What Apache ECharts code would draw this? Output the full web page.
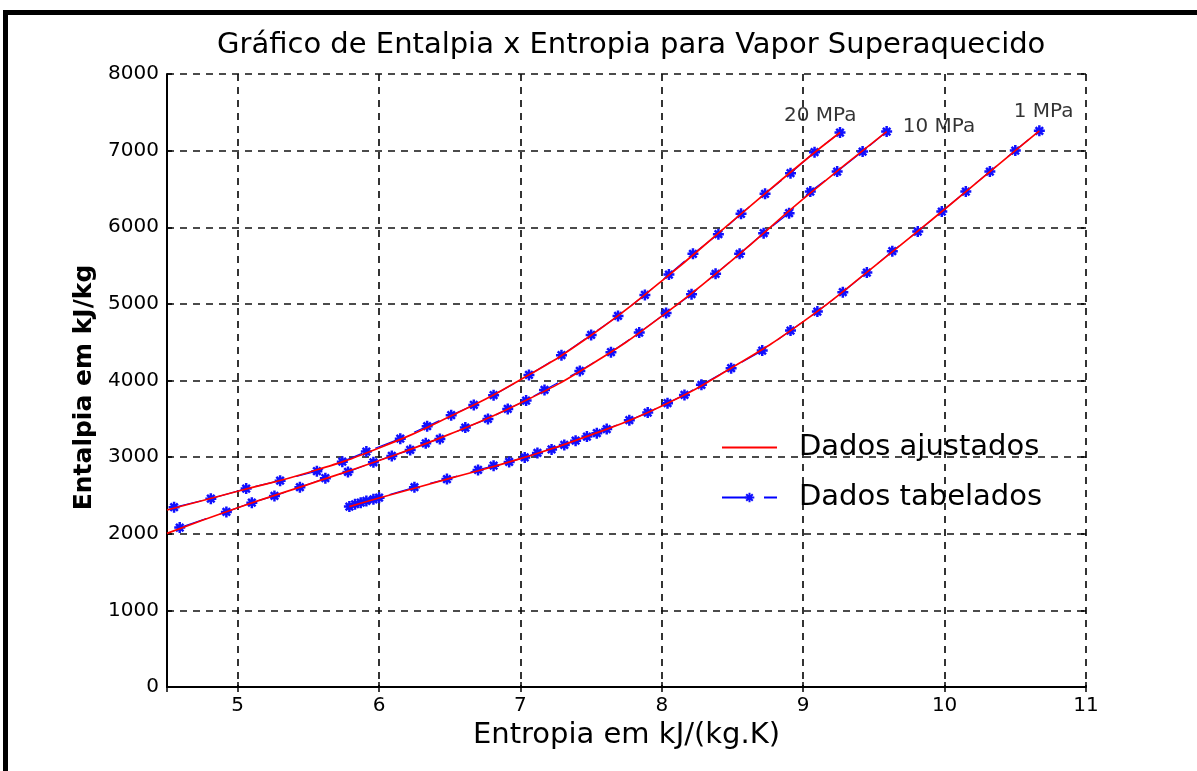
<!DOCTYPE html>
<html>
<head>
<meta charset="utf-8">
<script src="https://cdn.jsdelivr.net/npm/echarts@6/dist/echarts.min.js"></script>
<style>
  html, body { margin: 0; padding: 0; background: #fff; }
  #chart { width: 1197px; height: 771px; }
</style>
</head>
<body>
<div id="chart"></div>
<script>
// Superheated steam: enthalpy h (kJ/kg) against entropy s (kJ/(kg.K)), three isobars.
// Tabulated points [s, h]
const tab20MPa = [
  [4.55, 2346], [4.81, 2458], [5.06, 2589], [5.30, 2693], [5.56, 2816],
  [5.74, 2941], [5.91, 3072], [6.15, 3241], [6.34, 3403], [6.51, 3547],
  [6.67, 3681], [6.81, 3808], [7.06, 4073], [7.29, 4330], [7.50, 4595],
  [7.69, 4843], [7.88, 5117], [8.05, 5383], [8.22, 5653], [8.40, 5910],
  [8.56, 6175], [8.73, 6436], [8.91, 6706], [9.08, 6980], [9.26, 7236]
];
const tab10MPa = [
  [4.59, 2080], [4.92, 2285], [5.10, 2406], [5.26, 2494], [5.44, 2607],
  [5.62, 2725], [5.78, 2807], [5.96, 2933], [6.09, 3016], [6.22, 3094],
  [6.33, 3181], [6.43, 3238], [6.61, 3385], [6.77, 3499], [6.91, 3629],
  [7.04, 3738], [7.17, 3877], [7.42, 4125], [7.64, 4370], [7.84, 4625],
  [8.03, 4882], [8.21, 5127], [8.38, 5392], [8.55, 5653], [8.72, 5923],
  [8.90, 6184], [9.05, 6466], [9.24, 6727], [9.42, 6988], [9.59, 7249]
];
const tab1MPa = [
  [5.79, 2354], [5.83, 2385], [5.87, 2406], [5.91, 2428], [5.96, 2450],
  [6.00, 2471], [6.25, 2607], [6.48, 2713], [6.70, 2833], [6.81, 2888],
  [6.92, 2937], [7.03, 2996], [7.12, 3055], [7.22, 3101], [7.31, 3159],
  [7.39, 3214], [7.47, 3268], [7.54, 3312], [7.61, 3366], [7.77, 3482],
  [7.90, 3581], [8.04, 3704], [8.16, 3812], [8.28, 3943], [8.49, 4161],
  [8.71, 4390], [8.91, 4651], [9.10, 4899], [9.28, 5153], [9.45, 5409],
  [9.63, 5688], [9.81, 5944], [9.98, 6205], [10.15, 6466], [10.32, 6727],
  [10.50, 7001], [10.67, 7258]
];

// Fitted curves [s, h]
const fit20MPa = [
  [4.5, 2310], [5.0, 2555], [5.5, 2800], [6.0, 3120], [6.5, 3530],
  [7.0, 4010], [7.5, 4590], [8.0, 5300], [8.5, 6080], [9.0, 6855], [9.26, 7236]
];
const fit10MPa = [
  [4.5, 2005], [5.0, 2340], [5.5, 2645], [6.0, 2955], [6.5, 3300],
  [7.0, 3705], [7.5, 4210], [8.0, 4840], [8.5, 5575], [9.0, 6370], [9.59, 7249]
];
const fit1MPa = [
  [5.79, 2354], [6.0, 2466], [6.5, 2722], [7.0, 2980], [7.5, 3290],
  [8.0, 3668], [8.5, 4172], [9.0, 4768], [9.5, 5487], [10.0, 6235],
  [10.5, 7001], [10.67, 7258]
];

// Isobar names and where they are written [s, h]
const pressureNames = ['20 MPa', '10 MPa', '1 MPa'];
const pressureNameAt = [[9.12, 7454], [9.96, 7311], [10.70, 7507]];

const titleText = 'Gráfico de Entalpia x Entropia para Vapor Superaquecido';
const xName = 'Entropia em kJ/(kg.K)';
const yName = 'Entalpia em kJ/kg';
const fitName = 'Dados ajustados';
const tabName = 'Dados tabelados';

const FONT = 'DejaVu Sans';
const ASTERISK = 'path://M5 0L5 10M0 5L10 5M1.6 1.6L8.4 8.4M8.4 1.6L1.6 8.4';

const gridDash = { color: '#111', width: 1.7, type: [7, 6] };
const tickStyle = { color: '#000', width: 1.5 };

function tabSeries(data) {
  return {
    name: tabName, type: 'line', data: data, z: 2,
    symbol: ASTERISK, symbolSize: 11, showAllSymbol: true,
    itemStyle: { color: '#0000ff', borderColor: '#1010ff', borderWidth: 2.5 },
    lineStyle: { color: '#0000ff', width: 1.2, type: [28, 14] },
    emphasis: { disabled: true }
  };
}
function fitSeries(data) {
  return {
    name: fitName, type: 'line', data: data, z: 3,
    symbol: 'none', smooth: 0.5,
    itemStyle: { color: '#ff0000' },
    lineStyle: { color: '#ff0000', width: 1.7 },
    emphasis: { disabled: true }
  };
}

const chart = echarts.init(document.getElementById('chart'), null, { renderer: 'canvas' });

chart.setOption({
  animation: false,
  backgroundColor: '#ffffff',
  title: {
    text: titleText,
    left: 212, top: 26,
    textStyle: { fontFamily: FONT, fontSize: 29, fontWeight: 'normal', color: '#000' }
  },
  grid: { left: 167, right: 111, top: 74, bottom: 84, containLabel: false },
  legend: {
    data: [
      { name: fitName, itemStyle: { opacity: 0 } },
      { name: tabName }
    ],
    orient: 'vertical',
    left: 716, top: 428,
    itemWidth: 55, itemHeight: 12, itemGap: 21,
    selectedMode: false,
    textStyle: { fontFamily: FONT, fontSize: 29, color: '#000', padding: [0, 0, 0, 17] }
  },
  xAxis: [
    {
      type: 'value', min: 4.5, max: 11, splitNumber: 6,
      name: xName, nameLocation: 'middle', nameGap: 31,
      nameTextStyle: { fontFamily: FONT, fontSize: 29, color: '#000' },
      axisLine: { show: true, onZero: false, lineStyle: { color: '#000', width: 2 } },
      axisTick: { show: true, inside: true, length: 5, lineStyle: tickStyle },
      axisLabel: {
        showMinLabel: false, margin: 9,
        fontFamily: FONT, fontSize: 20, color: '#000',
        formatter: v => Number.isInteger(v) ? String(v) : ''
      },
      splitLine: { show: true, lineStyle: gridDash }
    },
    {
      type: 'value', min: 4.5, max: 11, splitNumber: 6, position: 'top',
      axisLine: { show: false },
      axisTick: { show: true, inside: true, length: 5, lineStyle: tickStyle },
      axisLabel: { show: false },
      splitLine: { show: false }
    }
  ],
  yAxis: [
    {
      type: 'value', min: 0, max: 8000, interval: 1000,
      name: yName, nameLocation: 'middle', nameGap: 47, nameRotate: 90,
      nameTextStyle: {
        fontFamily: FONT, fontSize: 25, fontWeight: 'bold', color: '#000',
        padding: [0, 14, 0, 0]
      },
      axisLine: { show: true, onZero: false, lineStyle: { color: '#000', width: 2 } },
      axisTick: { show: true, inside: true, length: 5, lineStyle: tickStyle },
      axisLabel: {
        margin: 8, fontFamily: FONT, fontSize: 20, color: '#000',
        formatter: v => String(v)
      },
      splitLine: { show: true, lineStyle: gridDash }
    },
    {
      type: 'value', min: 0, max: 8000, interval: 1000, position: 'right',
      axisLine: { show: false },
      axisTick: { show: true, inside: true, length: 5, lineStyle: tickStyle },
      axisLabel: { show: false },
      splitLine: { show: false }
    }
  ],
  series: [
    tabSeries(tab20MPa),
    tabSeries(tab10MPa),
    tabSeries(tab1MPa),
    fitSeries(fit20MPa),
    fitSeries(fit10MPa),
    fitSeries(fit1MPa),
    {
      name: 'isobaras', type: 'scatter', silent: true, z: 4,
      symbolSize: 1, itemStyle: { color: 'transparent' },
      data: pressureNames.map((n, i) => ({ name: n, value: pressureNameAt[i] })),
      label: {
        show: true, position: 'inside', formatter: '{b}',
        fontFamily: FONT, fontSize: 20, color: '#000'
      }
    }
  ],
  graphic: [
    { type: 'rect', shape: { x: 3, y: 10, width: 1194, height: 5 }, style: { fill: '#000' }, silent: true },
    { type: 'rect', shape: { x: 3, y: 10, width: 5, height: 761 }, style: { fill: '#000' }, silent: true }
  ]
});
</script>
</body>
</html>
